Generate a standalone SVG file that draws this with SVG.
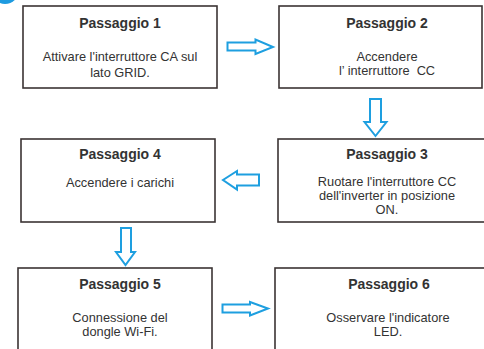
<svg xmlns="http://www.w3.org/2000/svg" width="484" height="349" viewBox="0 0 484 349">
<style>
.box{fill:#ffffff;stroke:#3b3434;stroke-width:1.6}
.t{font-family:"Liberation Sans",Arial,sans-serif;font-size:14px;font-weight:bold;fill:#333;text-anchor:middle}
.b{font-family:"Liberation Sans",Arial,sans-serif;font-size:12.8px;fill:#333;text-anchor:middle}
.arr{fill:#ffffff;stroke:#1e9fe0;stroke-width:2;stroke-linejoin:miter}
</style>
<rect width="484" height="349" fill="#ffffff"/>
<circle cx="5" cy="-10" r="14" fill="#1e9be0"/>
<g id="step1">
<rect class="box" x="23" y="6" width="194" height="82"/>
<text class="t" x="120" y="28">Passaggio 1</text>
<text class="b" x="120" y="61">Attivare l'interruttore CA sul</text>
<text class="b" x="120" y="77">lato GRID.</text>
</g>
<g id="step2">
<rect class="box" x="279" y="6" width="203" height="82"/>
<text class="t" x="387" y="28">Passaggio 2</text>
<text class="b" x="387" y="60.5">Accendere</text>
<text class="b" x="387" y="74.5" xml:space="preserve">l’ interruttore  CC</text>
</g>
<g id="step3">
<rect class="box" x="278" y="139" width="215" height="83"/>
<text class="t" x="387" y="159">Passaggio 3</text>
<text class="b" x="387" y="185.5">Ruotare l'interruttore CC</text>
<text class="b" x="387" y="199.5">dell'inverter in posizione</text>
<text class="b" x="387" y="213.5">ON.</text>
</g>
<g id="step4">
<rect class="box" x="21" y="139" width="194" height="83"/>
<text class="t" x="120" y="159">Passaggio 4</text>
<text class="b" x="120" y="187">Accendere i carichi</text>
</g>
<g id="step5">
<rect class="box" x="18" y="268" width="194" height="90"/>
<text class="t" x="120" y="289">Passaggio 5</text>
<text class="b" x="120" y="322">Connessione del</text>
<text class="b" x="120" y="336">dongle Wi-Fi.</text>
</g>
<g id="step6">
<rect class="box" x="275" y="268" width="220" height="90"/>
<text class="t" x="389" y="289">Passaggio 6</text>
<text class="b" x="388" y="322">Osservare l'indicatore</text>
<text class="b" x="388" y="336">LED.</text>
</g>
<g id="connectors">
<polygon class="arr" points="227.5,42.5 255.5,42.5 255.5,39.5 273,47 255.5,54 255.5,50.5 227.5,50.5"/>
<polygon class="arr" points="370,99 381,99 381,122 386.5,122 375.5,136 364.5,122 370,122"/>
<polygon class="arr" points="259,174.5 237,174.5 237,171 223,180 237,189.5 237,185.5 259,185.5"/>
<polygon class="arr" points="121,228 131,228 131,252 135,252 125.5,265 116,252 121,252"/>
<polygon class="arr" points="222.5,304.5 250,304.5 250,302 268,308.5 250,315.5 250,312.5 222.5,312.5"/>
</g>
</svg>
